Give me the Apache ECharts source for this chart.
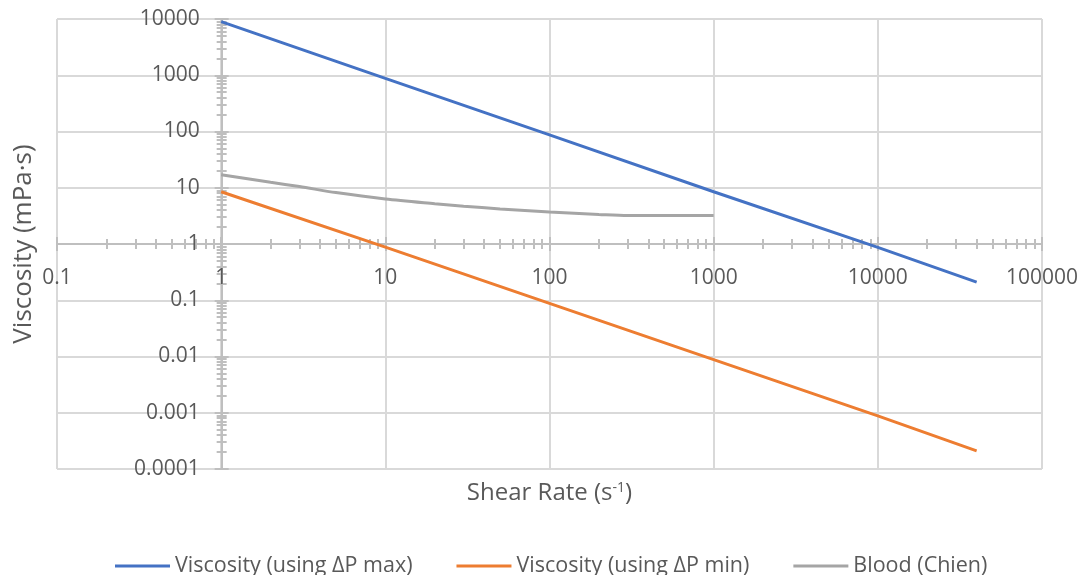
<!DOCTYPE html>
<html><head><meta charset="utf-8">
<script src="https://cdn.jsdelivr.net/npm/echarts@6/dist/echarts.min.js"></script>
<style>html,body{margin:0;padding:0;background:#fff}#c{width:1081px;height:575px}</style>
</head><body><div id="c"></div>
<script>
// ---- data ----
const xTickLabels = ['0.1', '1', '10', '100', '1000', '10000', '100000'];
const yTickLabels = ['0.0001', '0.001', '0.01', '0.1', '1', '10', '100', '1000', '10000'];
const seriesNames = ['Viscosity (using \u0394P max)', 'Viscosity (using \u0394P min)', 'Blood (Chien)'];
const shearMax = [1, 10, 100, 1000, 10000, 40000];
const viscMax = [9000, 880, 87, 8.5, 0.87, 0.21];
const shearMin = [1, 10, 100, 1000, 10000, 40000];
const viscMin = [8.5, 0.88, 0.088, 0.0088, 0.00088, 0.00021];
const shearBlood = [1, 2, 3, 5, 10, 20, 30, 50, 100, 200, 300, 500, 1000];
const viscBlood = [17, 12.5, 10.5, 8.2, 6.3, 5.2, 4.7, 4.2, 3.7, 3.35, 3.2, 3.2, 3.2];

// ---- layout / style ----
const FONT = 'Open Sans';
const TXT = '#595959';
const AXIS = '#bfbfbf';
const GRIDC = '#d9d9d9';
const W = 1081, H = 575;
const G = {left: 57, right: 36, top: 19, bottom: 106};
const gw = W - G.left - G.right, gh = H - G.top - G.bottom;
const xMin = 0.1, xMax = 100000, yMin = 0.0001, yMax = 10000;
const lg = Math.log10;
const xAxisOff = -gh * (lg(1) - lg(yMin)) / (lg(yMax) - lg(yMin));
const yAxisOff = -gw * (lg(1) - lg(xMin)) / (lg(xMax) - lg(xMin));

function decades(a, b) { const r = []; for (let e = Math.round(lg(a)); e <= Math.round(lg(b)); e++) r.push(e); return r; }
function minorVals(a, b) {
  const r = [];
  decades(a, b).forEach(e => { if (Math.pow(10, e) < b) for (let m = 2; m <= 9; m++) r.push(m * Math.pow(10, e)); });
  return r;
}
function majorVals(a, b) { return decades(a, b).map(e => Math.pow(10, e)); }

function tickAxis(dim, vals, inside, len) {
  const base = dim === 'x'
    ? {type: 'log', min: xMin, max: xMax, position: 'bottom', offset: xAxisOff}
    : {type: 'log', min: yMin, max: yMax, position: 'left', offset: yAxisOff};
  return Object.assign(base, {
    axisLine: {show: false, onZero: false},
    axisLabel: {show: false},
    splitLine: {show: false},
    axisTick: {show: true, inside: inside, length: len, customValues: vals, lineStyle: {color: AXIS, width: 2}}
  });
}

const xMinor = minorVals(xMin, xMax), yMinor = minorVals(yMin, yMax);
const xMajor = majorVals(xMin, xMax), yMajor = majorVals(yMin, yMax);

const xAxes = [
  {
    type: 'log', min: xMin, max: xMax, position: 'bottom', offset: xAxisOff,
    axisLine: {show: true, onZero: false, lineStyle: {color: AXIS, width: 2}},
    axisTick: {show: false},
    axisLabel: {
      show: true, margin: 24, color: TXT, fontSize: 21, fontFamily: FONT,
      formatter: v => xTickLabels[Math.round(lg(v)) - Math.round(lg(xMin))]
    },
    splitLine: {show: true, lineStyle: {color: GRIDC, width: 2}}
  },
  tickAxis('x', xMajor, false, 7), tickAxis('x', xMajor, true, 7),
  tickAxis('x', xMinor, false, 5), tickAxis('x', xMinor, true, 5),
  {
    type: 'log', min: xMin, max: xMax, position: 'bottom', offset: 0,
    axisLine: {show: false, onZero: false}, axisTick: {show: false}, axisLabel: {show: false}, splitLine: {show: false},
    name: '{t|Shear Rate (s}{s|-1}{t|)}', nameLocation: 'middle', nameGap: 12,
    nameTextStyle: {
      color: TXT, fontFamily: FONT, fontSize: 24,
      rich: {t: {fontSize: 24, color: TXT, fontFamily: FONT}, s: {fontSize: 14, color: TXT, fontFamily: FONT, verticalAlign: 'top', padding: [0, 0, 10, 0]}}
    }
  }
];

const yAxes = [
  {
    type: 'log', min: yMin, max: yMax, position: 'left', offset: yAxisOff,
    axisLine: {show: true, onZero: false, lineStyle: {color: AXIS, width: 2}},
    axisTick: {show: false},
    axisLabel: {
      show: true, margin: 22, color: TXT, fontSize: 21, fontFamily: FONT,
      formatter: v => yTickLabels[Math.round(lg(v)) - Math.round(lg(yMin))]
    },
    splitLine: {show: true, lineStyle: {color: GRIDC, width: 2}}
  },
  tickAxis('y', yMajor, false, 7), tickAxis('y', yMajor, true, 7),
  tickAxis('y', yMinor, false, 5), tickAxis('y', yMinor, true, 5),
  {
    type: 'log', min: yMin, max: yMax, position: 'left', offset: 0,
    axisLine: {show: false, onZero: false}, axisTick: {show: false}, axisLabel: {show: false}, splitLine: {show: false},
    name: 'Viscosity (mPa\u00b7s)', nameLocation: 'middle', nameGap: 20,
    nameTextStyle: {color: TXT, fontFamily: FONT, fontSize: 26}
  }
];

function pairs(xs, ys) { return xs.map((x, i) => [x, ys[i]]); }

const chart = echarts.init(document.getElementById('c'), null, {renderer: 'canvas'});
chart.setOption({
  animation: false,
  backgroundColor: '#ffffff',
  grid: {left: G.left, right: G.right, top: G.top, bottom: G.bottom, containLabel: false},
  xAxis: xAxes,
  yAxis: yAxes,
  legend: {
    left: 110, top: 550, icon: 'rect', itemWidth: 55, itemHeight: 3, itemGap: 44,
    textStyle: {color: TXT, fontSize: 21.5, fontFamily: FONT},
    data: seriesNames
  },
  series: [
    {name: seriesNames[0], type: 'line', data: pairs(shearMax, viscMax), symbol: 'none', lineStyle: {color: '#4472C4', width: 3}, itemStyle: {color: '#4472C4'}},
    {name: seriesNames[1], type: 'line', data: pairs(shearMin, viscMin), symbol: 'none', lineStyle: {color: '#ED7D31', width: 3}, itemStyle: {color: '#ED7D31'}},
    {name: seriesNames[2], type: 'line', data: pairs(shearBlood, viscBlood), symbol: 'none', smooth: 0.3, lineStyle: {color: '#A5A5A5', width: 3}, itemStyle: {color: '#A5A5A5'}}
  ]
});
</script>
</body></html>
